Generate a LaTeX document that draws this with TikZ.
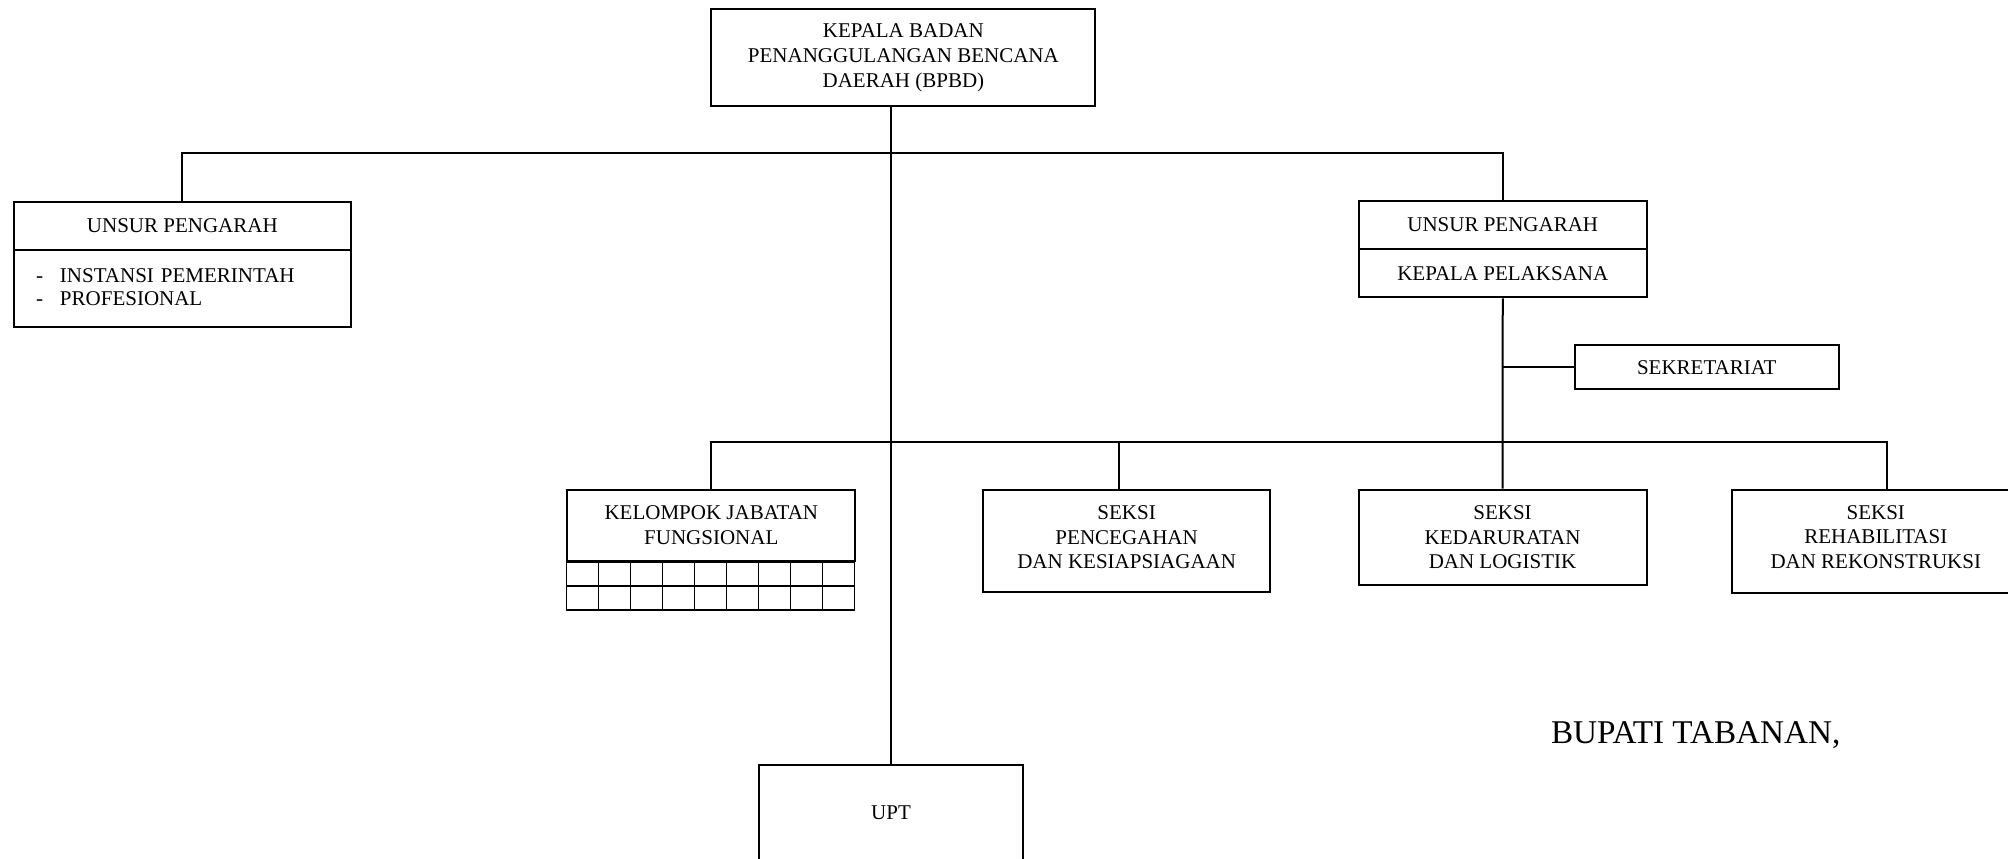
\documentclass[tikz,border=0pt]{standalone}
\usepackage{fontspec}
\setmainfont{Liberation Serif}
\begin{document}
\begin{tikzpicture}[x=0.5pt,y=-0.5pt,
  txtfont/.style={font={\fontsize{10.5pt}{12.2pt}\selectfont}},
  box/.style={draw, line width=1pt, inner sep=0pt, align=center, txtfont},
  inlabel/.style={align=center, inner sep=0pt, txtfont, yshift=1.8pt},
  conn/.style={line width=1pt},
  gridline/.style={line width=0.8pt}
]
\useasboundingbox (0,0) rectangle (2008,858);
\fill[white] (0,0) rectangle (2008,858);

% boxes
\node[box, font={\fontsize{10.5pt}{12.4pt}\selectfont}, minimum width=192pt, minimum height=48.35pt] (kepala) at (903.4,57.65) {KEPALA BADAN\\PENANGGULANGAN BENCANA\\DAERAH (BPBD)};

\node[box, minimum width=168.35pt, minimum height=24.25pt] (unsurL) at (182.35,225.75) {UNSUR PENGARAH};
\node[box, minimum width=168.35pt, minimum height=38.35pt, label={[inlabel, yshift=-1.4pt, font={\fontsize{10.5pt}{11.5pt}\selectfont}, text width=146.35pt, align=left]center:\makebox[12pt][l]{-}INSTANSI PEMERINTAH\\\makebox[12pt][l]{-}PROFESIONAL}] (unsurLb) at (182.35,288.35) {};

\node[box, minimum width=144.05pt, minimum height=24pt] (unsurR) at (1502.75,225) {UNSUR PENGARAH};
\node[box, minimum width=144.05pt, minimum height=24.15pt] (kepalaP) at (1502.75,273.15) {KEPALA PELAKSANA};

\node[box, minimum width=132.25pt, minimum height=22.15pt] (sek) at (1706.75,367.15) {SEKRETARIAT};

\node[box, minimum width=144pt, minimum height=35.5pt] (kjf) at (711.3,525.2) {KELOMPOK JABATAN\\FUNGSIONAL};
\begin{scope}[shift={(kjf.south west)}]
  \draw[gridline] (0,0) rectangle (288,48);
  \draw[gridline] (0,24) -- (288,24);
  \foreach \i in {1,...,8} \draw[gridline] (32*\i,0) -- (32*\i,48);
\end{scope}

\node[box, minimum width=143.35pt, minimum height=51.4pt, label={[inlabel]center:SEKSI\\PENCEGAHAN\\DAN KESIAPSIAGAAN}] (pence) at (1126.65,540.9) {};
\node[box, minimum width=144.05pt, minimum height=47.9pt] (kedar) at (1502.55,537.4) {SEKSI\\KEDARURATAN\\DAN LOGISTIK};
\node[box, minimum width=143.5pt, minimum height=51.8pt, label={[inlabel, yshift=0.4pt]center:SEKSI\\REHABILITASI\\DAN REKONSTRUKSI}] (rehab) at (1875.8,541.5) {};

\node[box, minimum width=131.7pt, minimum height=48pt] (upt) at (891,812.7) {UPT};

\node[anchor=base west, inner sep=0pt, font={\fontsize{16.6pt}{19pt}\selectfont}] (bupati) at (1550.6,743.3) {BUPATI TABANAN,};

% connectors
\coordinate (busA) at (890,153.3);
\coordinate (busB) at (890,441.7);
\coordinate (dropP) at (1119,441.7);
\coordinate (dropR) at (1886.7,441.7);

\draw[conn] (kepala.south -| upt.north) -- (upt.north);
\draw[conn] (unsurL.north) -- (unsurL.north |- busA) -- (unsurR.north |- busA) -- (unsurR.north);
\draw[conn] (kjf.north) -- (kjf.north |- busB) -- (dropR) -- (dropR |- rehab.north);
\draw[conn] (dropP) -- (dropP |- pence.north);
\draw[conn] (kepalaP.south) -- (kedar.north);
\draw[conn] (sek.west) -- (sek.west -| kepalaP.south);
\end{tikzpicture}
\end{document}
